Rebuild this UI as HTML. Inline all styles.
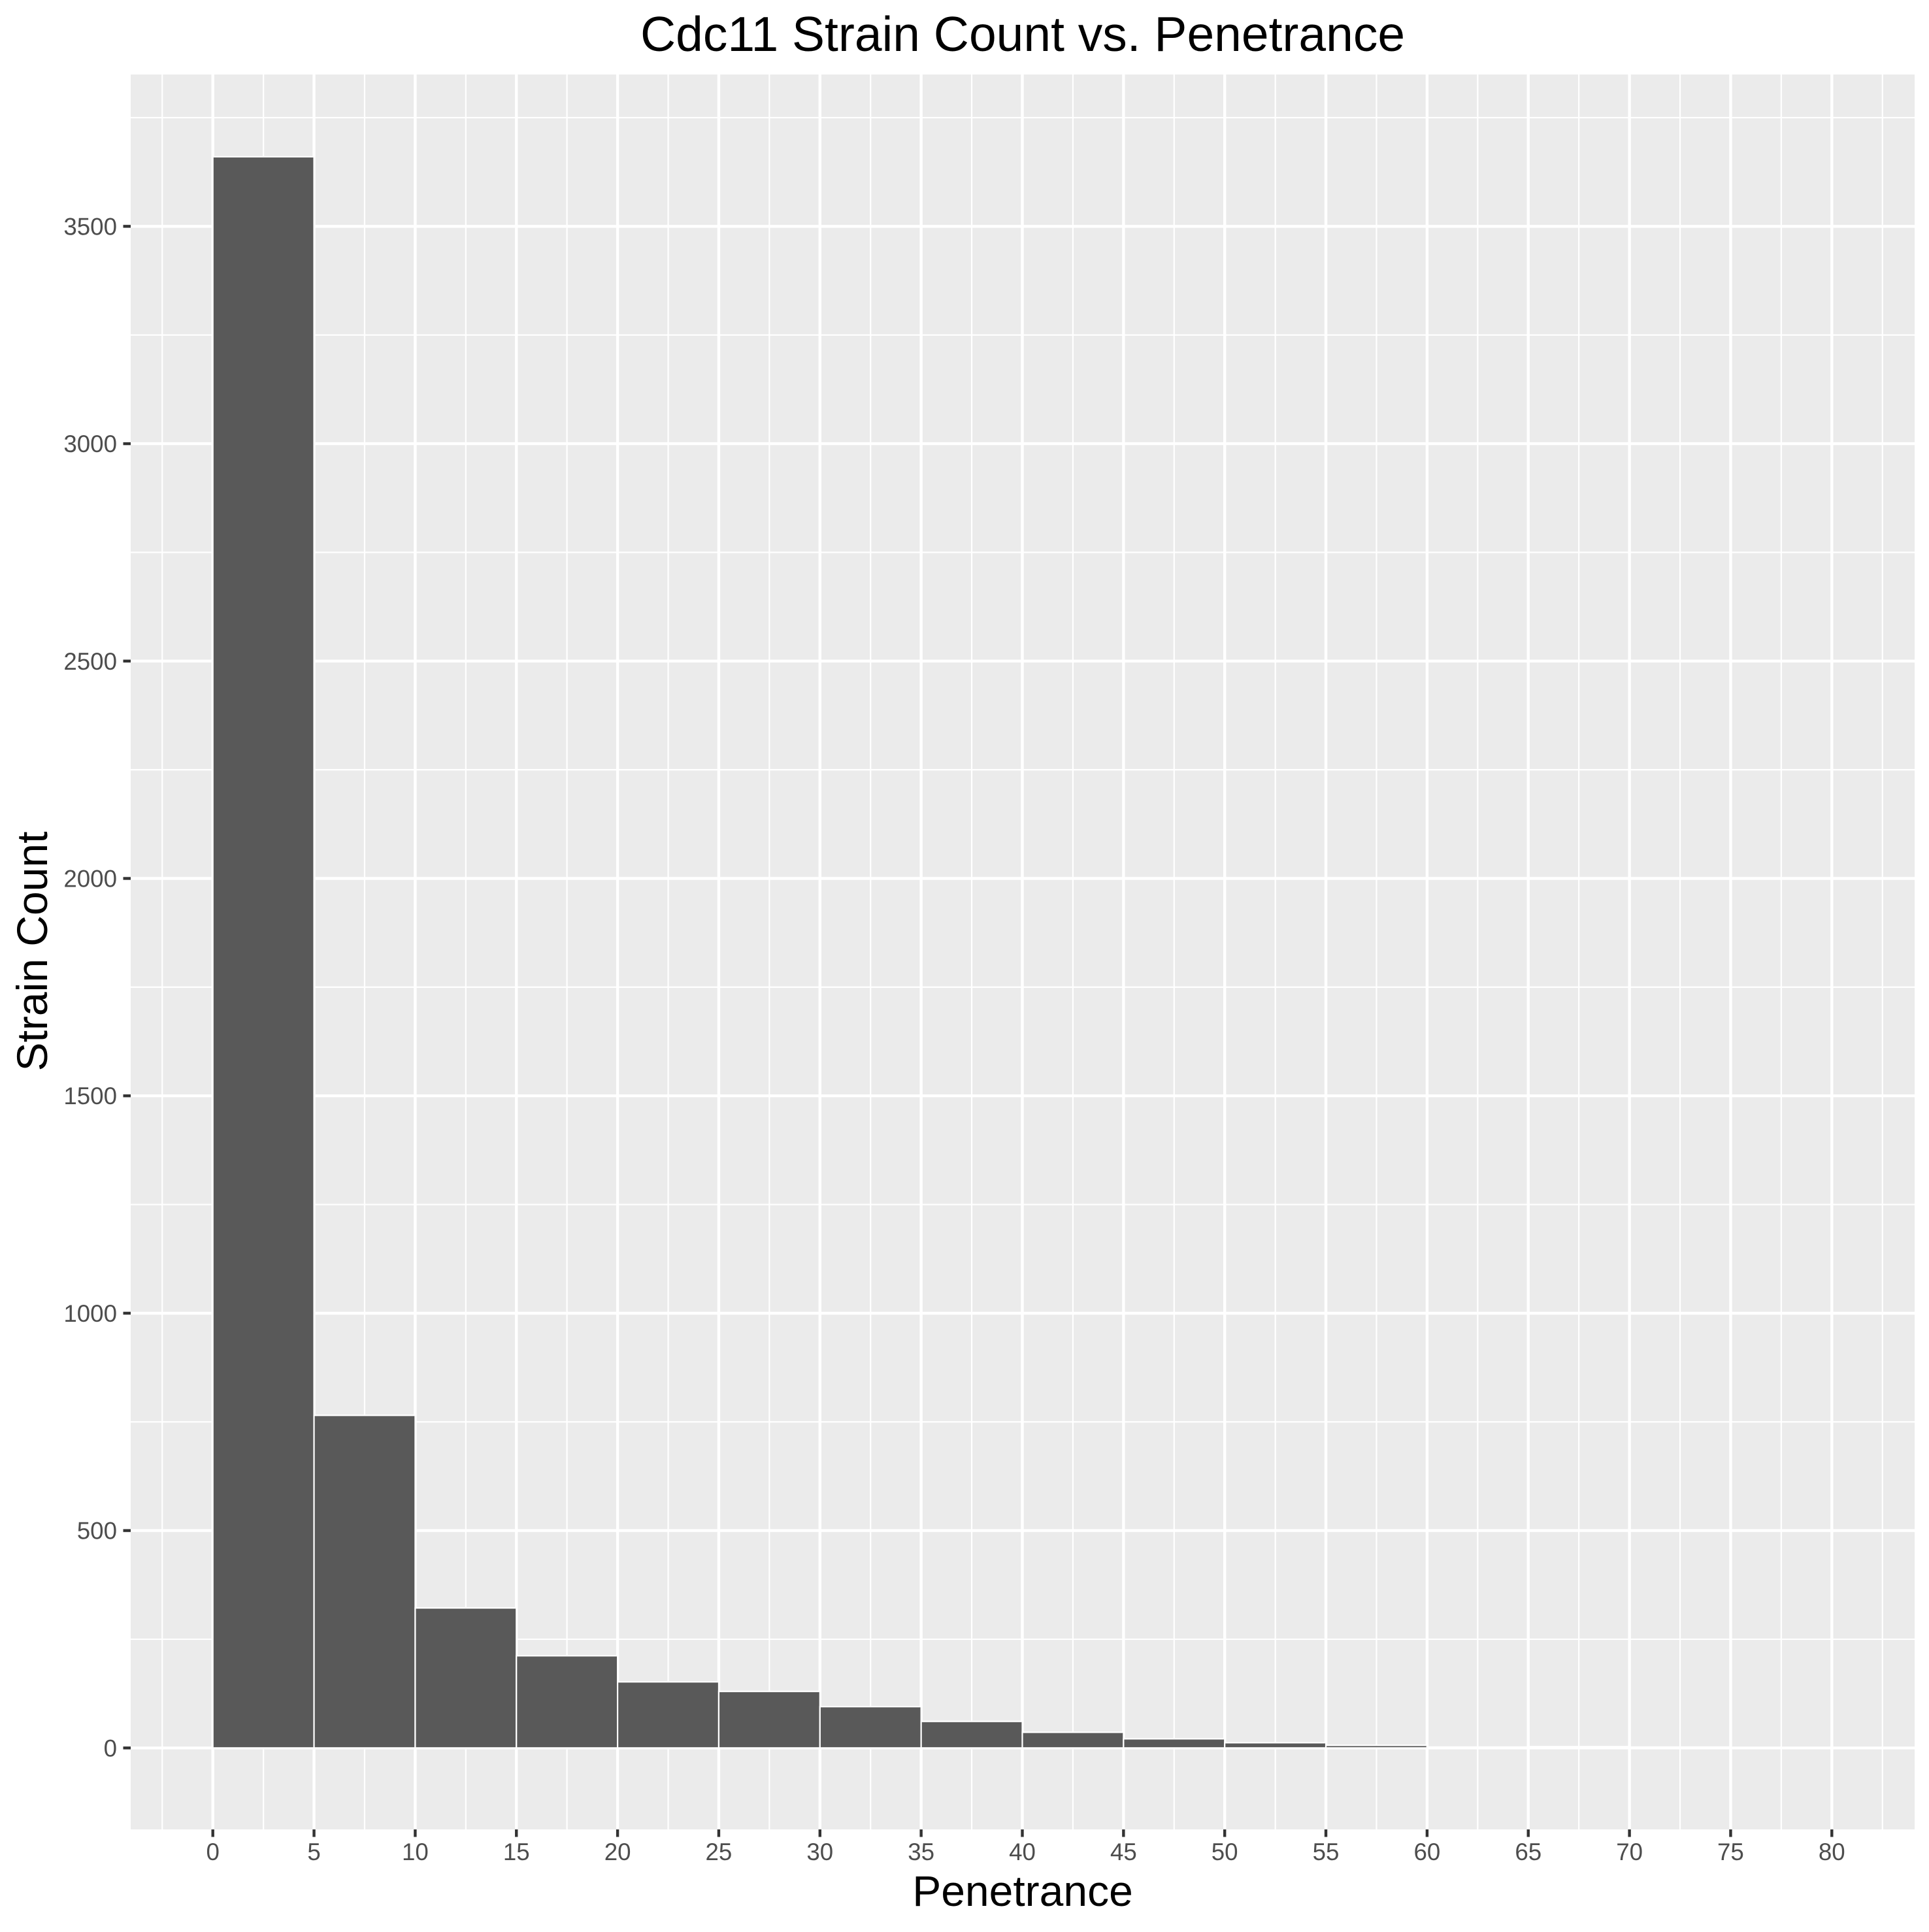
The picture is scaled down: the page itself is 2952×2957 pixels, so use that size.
<!DOCTYPE html>
<html><head><meta charset="utf-8"><style>
html,body{margin:0;padding:0;background:#fff;}
svg text{font-family:"Liberation Sans",Arial,sans-serif;}
</style></head><body>
<svg id="chart" width="2952" height="2952" viewBox="0 0 2952 2952" xmlns="http://www.w3.org/2000/svg">
<rect x="0" y="0" width="2952" height="2952" fill="#fff"/>
<rect x="200" y="114" width="2730" height="2686" fill="#ebebeb"/>
<g id="grid"></g>
<g id="bars"></g>
<g id="axes"></g>
<text x="1565" y="78" font-size="75" text-anchor="middle" fill="#000">Cdc11 Strain Count vs. Penetrance</text>
<text x="1565" y="2917" font-size="66" text-anchor="middle" fill="#000">Penetrance</text>
<text x="72" y="1456" font-size="66" text-anchor="middle" fill="#000" transform="rotate(-90 72 1456)">Strain Count</text>
</svg>
<script>
const binStarts = [0,5,10,15,20,25,30,35,40,45,50,55,60,65,70,75];
const binWidth = 5;
const counts = [3660,765,322,212,152,130,95,61,36,21,12,6,2,3,2,1];
const xTicks = [0,5,10,15,20,25,30,35,40,45,50,55,60,65,70,75,80];
const yTicks = [0,500,1000,1500,2000,2500,3000,3500];

const NS = "http://www.w3.org/2000/svg";
const PL = 200, PR = 2930, PT = 114, PB = 2800;
function xs(v){ return 325.7 + v * 30.97; }
function ys(v){ return 2675.3 - v * 0.6654; }
function mk(tag, attrs, parent){
  const e = document.createElementNS(NS, tag);
  for (const k in attrs) e.setAttribute(k, attrs[k]);
  parent.appendChild(e);
  return e;
}
const grid = document.getElementById('grid');
const bars = document.getElementById('bars');
const axes = document.getElementById('axes');

// minor gridlines
for (let v = -2.5; v <= 82.5; v += 5) {
  const l = mk('line', {x1: xs(v), x2: xs(v), y1: PT, y2: PB, stroke: '#fff', 'stroke-width': 2.2}, grid);
  
  
}
for (let v = -250; v <= 3750; v += 500) {
  const l = mk('line', {x1: PL, x2: PR, y1: ys(v), y2: ys(v), stroke: '#fff', 'stroke-width': 2.2}, grid);
  
  
}
// major gridlines
xTicks.forEach(v => {
  const l = mk('line', {x1: xs(v), x2: xs(v), y1: PT, y2: PB, stroke: '#fff', 'stroke-width': 4.4}, grid);
  
  
});
yTicks.forEach(v => {
  const l = mk('line', {x1: PL, x2: PR, y1: ys(v), y2: ys(v), stroke: '#fff', 'stroke-width': 4.4}, grid);
  
  
});
// bars
binStarts.forEach((s, i) => {
  const x0 = xs(s), x1 = xs(s + binWidth);
  const y0 = ys(counts[i]), y1 = ys(0);
  const r = mk('rect', {x: x0, y: Math.min(y0, y1), width: x1 - x0, height: Math.abs(y1 - y0), fill: '#595959', stroke: '#fff', 'stroke-width': 2.2}, bars);
  
  
});
// axes ticks and labels
xTicks.forEach(v => {
  const t = mk('line', {x1: xs(v), x2: xs(v), y1: PB, y2: PB + 11.5, stroke: '#333', 'stroke-width': 4.4}, axes);
  
  
  const lb = mk('text', {x: xs(v), y: 2847, 'font-size': 36.7, 'text-anchor': 'middle', fill: '#4d4d4d'}, axes);
  
  
  lb.textContent = v;
});
yTicks.forEach(v => {
  const t = mk('line', {x1: PL - 11.5, x2: PL, y1: ys(v), y2: ys(v), stroke: '#333', 'stroke-width': 4.4}, axes);
  
  
  const lb = mk('text', {x: 179, y: ys(v) + 13, 'font-size': 36.7, 'text-anchor': 'end', fill: '#4d4d4d'}, axes);
  
  
  lb.textContent = v;
});
</script>
</body></html>
